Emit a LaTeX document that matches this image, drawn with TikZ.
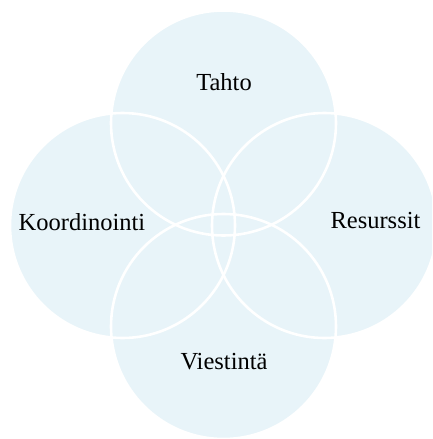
\documentclass[tikz,border=0pt]{standalone}
\usepackage{fontspec}
\setmainfont{Liberation Serif}
\definecolor{venn}{HTML}{E8F4F9}
\begin{document}
\begin{tikzpicture}[x=1pt,y=-1pt,
  ring/.style={draw=white,line width=2.6pt},
  lbl/.style={font=\fontsize{24.5}{28}\selectfont,text=black,inner sep=0pt}]
\useasboundingbox (0,0) rectangle (432,439);
\begin{scope}
\clip (0,0) rectangle (432,439);
\coordinate (ct) at (223.5,123);
\coordinate (cl) at (122.5,225.5);
\coordinate (cr) at (324.5,225.5);
\coordinate (cb) at (223.5,326.5);
\foreach \c in {ct,cl,cr,cb}{\fill[venn] (\c) circle (112.5);}
\foreach \c in {ct,cl,cr,cb}{\draw[ring] (\c) circle (112.5);}
\end{scope}
\node[lbl,anchor=base] (tahto) at (224,90) {Tahto};
\node[lbl,anchor=base] (koord) at (82,230) {Koordinointi};
\node[lbl,anchor=base] (res) at (375.5,228) {Resurssit};
\node[lbl,anchor=base] (viest) at (224,369) {Viestintä};
\end{tikzpicture}
\end{document}
